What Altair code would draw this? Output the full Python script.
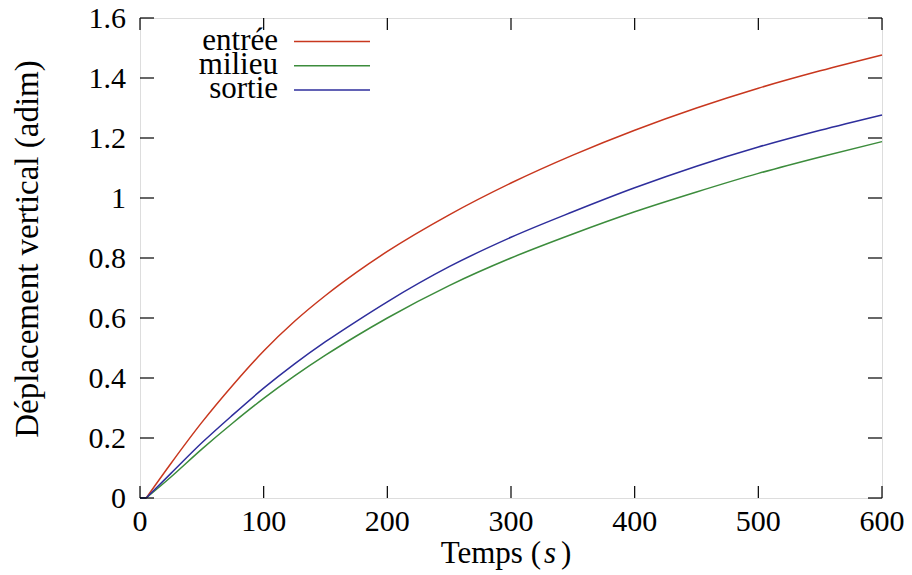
import altair as alt
import pandas as pd

# ---- data ----
temps = [0, 5, 25, 50, 75, 100, 125, 150, 175, 200, 250, 300, 350, 400, 450, 500, 550, 600]
entree = [0, 0, 0.115, 0.252, 0.376, 0.49, 0.589, 0.675, 0.752, 0.822, 0.944, 1.05, 1.143, 1.226, 1.300, 1.366, 1.424, 1.477]
milieu = [0, 0, 0.07, 0.163, 0.25, 0.332, 0.407, 0.476, 0.540, 0.60, 0.708, 0.80, 0.88, 0.954, 1.020, 1.082, 1.137, 1.188]
sortie = [0, 0, 0.082, 0.184, 0.277, 0.366, 0.447, 0.521, 0.589, 0.654, 0.771, 0.869, 0.954, 1.034, 1.106, 1.170, 1.226, 1.277]

series_names = ["entrée", "milieu", "sortie"]
series_colors = ["#c8371e", "#3c8c3c", "#2e2e9c"]

x_ticks = [0, 100, 200, 300, 400, 500, 600]
x_labels = ["0", "100", "200", "300", "400", "500", "600"]
y_ticks = [0, 0.2, 0.4, 0.6, 0.8, 1.0, 1.2, 1.4, 1.6]
y_labels = ["0", "0.2", "0.4", "0.6", "0.8", "1", "1.2", "1.4", "1.6"]

FONT = "'Liberation Serif', 'Times New Roman', 'DejaVu Serif', serif"
W, H = 742, 480

rows = []
for name, vals in zip(series_names, [entree, milieu, sortie]):
    for t, v in zip(temps, vals):
        rows.append({"t": t, "v": v, "serie": name})
df = pd.DataFrame(rows)

xscale = alt.Scale(domain=[0, 600], nice=False, zero=False)
yscale = alt.Scale(domain=[0, 1.6], nice=False, zero=False)
cscale = alt.Scale(domain=series_names, range=series_colors)

base = alt.Chart(df).encode(
    x=alt.X("t:Q", scale=xscale, axis=None),
    y=alt.Y("v:Q", scale=yscale, axis=None),
    color=alt.Color("serie:N", scale=cscale, legend=None),
)
# flat start segment (linear) + smooth rising part
lines_start = base.transform_filter("datum.t <= 5").mark_line(strokeWidth=1.5, interpolate="linear")
lines = base.transform_filter("datum.t >= 5").mark_line(strokeWidth=1.5, interpolate="monotone")

xt = pd.DataFrame({"t": x_ticks, "lab": x_labels})
yt = pd.DataFrame({"v": y_ticks, "lab": y_labels})
tick_style = dict(color="black", strokeWidth=1.2)
xb = alt.Chart(xt).mark_rule(**tick_style).encode(x=alt.X("t:Q", scale=xscale, axis=None), y=alt.value(H), y2=alt.value(H - 12))
xtop = alt.Chart(xt).mark_rule(**tick_style).encode(x=alt.X("t:Q", scale=xscale, axis=None), y=alt.value(0), y2=alt.value(12))
yl = alt.Chart(yt).mark_rule(**tick_style).encode(y=alt.Y("v:Q", scale=yscale, axis=None), x=alt.value(0), x2=alt.value(14))
yr = alt.Chart(yt).mark_rule(**tick_style).encode(y=alt.Y("v:Q", scale=yscale, axis=None), x=alt.value(W), x2=alt.value(W - 14))

xlab = alt.Chart(xt).mark_text(font=FONT, fontSize=30, align="center", baseline="middle", color="black").encode(
    x=alt.X("t:Q", scale=xscale, axis=None), y=alt.value(H + 24), text="lab:N")
ylab = alt.Chart(yt).mark_text(font=FONT, fontSize=30, align="right", baseline="middle", color="black", dy=1).encode(
    y=alt.Y("v:Q", scale=yscale, axis=None), x=alt.value(-14), text="lab:N")

# legend (text left of the line sample, as in gnuplot)
leg_layers = []
for i, (name, col) in enumerate(zip(series_names, series_colors)):
    ypix = 23.5 + i * 24.3
    leg_layers.append(
        alt.Chart(pd.DataFrame({"serie": [name]})).mark_text(
            font=FONT, fontSize=31, align="right", baseline="middle", color="black", dy=-1
        ).encode(text="serie:N", x=alt.value(138), y=alt.value(ypix))
    )
    leg_layers.append(
        alt.Chart(pd.DataFrame({"serie": [name]})).mark_rule(color=col, strokeWidth=1.5).encode(
            x=alt.value(154), x2=alt.value(230), y=alt.value(ypix)
        )
    )

# axis titles
ytitle = alt.Chart(pd.DataFrame({"txt": ["Déplacement vertical (adim)"]})).mark_text(
    font=FONT, fontSize=33, angle=270, align="center", baseline="middle", color="black"
).encode(text="txt:N", x=alt.value(-112), y=alt.value(231))

xt1 = alt.Chart(pd.DataFrame({"txt": ["Temps ("]})).mark_text(
    font=FONT, fontSize=31, align="right", baseline="middle", color="black"
).encode(text="txt:N", x=alt.value(401), y=alt.value(H + 56))
xt2 = alt.Chart(pd.DataFrame({"txt": ["s"]})).mark_text(
    font=FONT, fontSize=31, fontStyle="italic", align="left", baseline="middle", color="black"
).encode(text="txt:N", x=alt.value(404), y=alt.value(H + 56))
xt3 = alt.Chart(pd.DataFrame({"txt": [")"]})).mark_text(
    font=FONT, fontSize=31, align="left", baseline="middle", color="black"
).encode(text="txt:N", x=alt.value(421), y=alt.value(H + 56))

chart = alt.layer(lines_start, lines, xb, xtop, yl, yr, xlab, ylab, *leg_layers, ytitle, xt1, xt2, xt3).properties(
    width=W, height=H,
    autosize=alt.AutoSizeParams(type="none"),
    padding={"left": 132, "top": 10, "right": 22, "bottom": 74},
).configure_view(stroke="black", strokeWidth=1.6).configure(background="white")

chart.save("out.html", embed_options={"renderer": "svg", "actions": False})
